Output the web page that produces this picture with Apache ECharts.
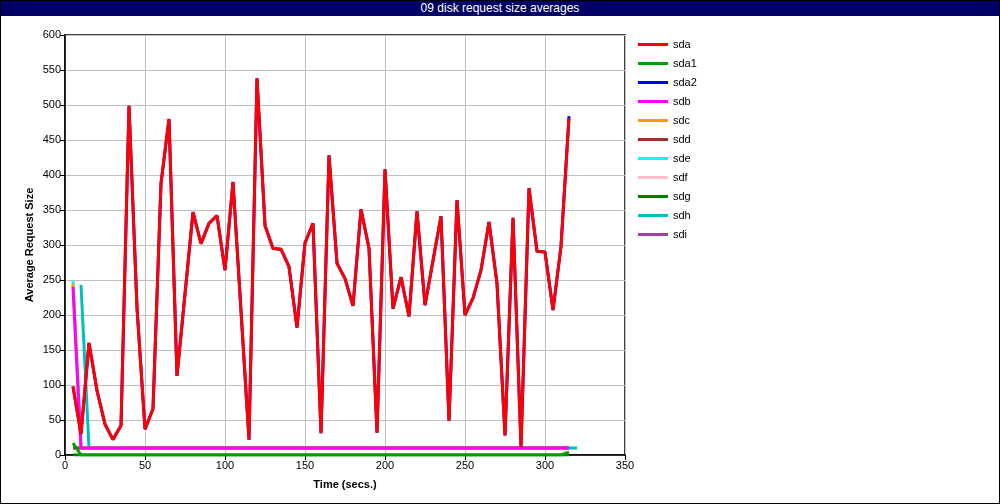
<!DOCTYPE html>
<html>
<head>
<meta charset="utf-8">
<script src="https://cdn.jsdelivr.net/npm/echarts@6/dist/echarts.min.js"></script>
<style>
html,body{margin:0;padding:0;background:#fff;}
#wrap{position:relative;width:998px;height:502px;border:1px solid #000;}
#title{position:absolute;left:0;top:0;width:998px;height:15px;background:#000066;color:#fff;font:12px "Liberation Sans",Arial,sans-serif;text-align:center;line-height:15px;}
#chart{position:absolute;left:-1px;top:-1px;width:1000px;height:504px;}
</style>
</head>
<body>
<div id="wrap"><div id="chart"></div><div id="title">09 disk request size averages</div></div>
<script>
const times = [5,10,15,20,25,30,35,40,45,50,55,60,65,70,75,80,85,90,95,100,105,110,115,120,125,130,135,140,145,150,155,160,165,170,175,180,185,190,195,200,205,210,215,220,225,230,235,240,245,250,255,260,265,270,275,280,285,290,295,300,305,310,315,320];
const deviceNames = ['sda','sda1','sda2','sdb','sdc','sdd','sde','sdf','sdg','sdh','sdi'];
const colors = ['#ff0000','#00a000','#0000ff','#ff00ff','#f0a000','#a03030','#00ffff','#ffc0cb','#008000','#00c0c0','#a040a0'];
const sda = [98,30,160,92,44,22,42,499,210,37,66,388,480,113,230,347,302,331,342,264,390,206,22,538,328,295,294,269,182,303,331,31,428,274,252,213,351,295,32,408,209,254,198,348,214,278,341,49,364,200,224,264,333,245,28,339,12,381,291,290,207,298,481,null];
const sda1 = [17,0,0,0,0,0,0,0,0,0,0,0,0,0,0,0,0,0,0,0,0,0,0,0,0,0,0,0,0,0,0,0,0,0,0,0,0,0,0,0,0,0,0,0,0,0,0,0,0,0,0,0,0,0,0,0,0,0,0,0,0,0,4,null];
const sda2 = [98,30,160,92,44,22,42,499,210,37,66,388,480,113,230,347,302,331,342,264,390,206,22,538,328,295,294,269,182,303,331,31,428,274,252,213,351,295,32,408,209,254,198,348,214,278,341,49,364,200,224,264,333,245,28,339,12,381,291,290,207,298,484,null];
const sdb = [240,10,10,10,10,10,10,10,10,10,10,10,10,10,10,10,10,10,10,10,10,10,10,10,10,10,10,10,10,10,10,10,10,10,10,10,10,10,10,10,10,10,10,10,10,10,10,10,10,10,10,10,10,10,10,10,10,10,10,10,10,10,10,null];
const sdc = [245,10,10,10,10,10,10,10,10,10,10,10,10,10,10,10,10,10,10,10,10,10,10,10,10,10,10,10,10,10,10,10,10,10,10,10,10,10,10,10,10,10,10,10,10,10,10,10,10,10,10,10,10,10,10,10,10,10,10,10,10,10,10,null];
const sdd = [10,10,10,10,10,10,10,10,10,10,10,10,10,10,10,10,10,10,10,10,10,10,10,10,10,10,10,10,10,10,10,10,10,10,10,10,10,10,10,10,10,10,10,10,10,10,10,10,10,10,10,10,10,10,10,10,10,10,10,10,10,10,10,null];
const sde = [249,10,10,10,10,10,10,10,10,10,10,10,10,10,10,10,10,10,10,10,10,10,10,10,10,10,10,10,10,10,10,10,10,10,10,10,10,10,10,10,10,10,10,10,10,10,10,10,10,10,10,10,10,10,10,10,10,10,10,10,10,10,10,null];
const sdf = [10,10,10,10,10,10,10,10,10,10,10,10,10,10,10,10,10,10,10,10,10,10,10,10,10,10,10,10,10,10,10,10,10,10,10,10,10,10,10,10,10,10,10,10,10,10,10,10,10,10,10,10,10,10,10,10,10,10,10,10,10,10,10,null];
const sdg = [0,0,0,0,0,0,0,0,0,0,0,0,0,0,0,0,0,0,0,0,0,0,0,0,0,0,0,0,0,0,0,0,0,0,0,0,0,0,0,0,0,0,0,0,0,0,0,0,0,0,0,0,0,0,0,0,0,0,0,0,0,0,0,null];
const sdh = [null,243,10,10,10,10,10,10,10,10,10,10,10,10,10,10,10,10,10,10,10,10,10,10,10,10,10,10,10,10,10,10,10,10,10,10,10,10,10,10,10,10,10,10,10,10,10,10,10,10,10,10,10,10,10,10,10,10,10,10,10,10,10,10];
const sdi = [10,10,10,10,10,10,10,10,10,10,10,10,10,10,10,10,10,10,10,10,10,10,10,10,10,10,10,10,10,10,10,10,10,10,10,10,10,10,10,10,10,10,10,10,10,10,10,10,10,10,10,10,10,10,10,10,10,10,10,10,10,10,10,null];
const xTicks = [0,50,100,150,200,250,300,350];
const yTicks = [0,50,100,150,200,250,300,350,400,450,500,550,600];

const seriesValues = [sda,sda1,sda2,sdb,sdc,sdd,sde,sdf,sdg,sdh,sdi];
const FONT = '"Liberation Sans", Arial, sans-serif';
const series = [];
for (let i = deviceNames.length - 1; i >= 0; i--) {
  const vals = seriesValues[i];
  const data = [];
  for (let k = 0; k < times.length; k++) if (vals[k] !== null) data.push([times[k], vals[k]]);
  series.push({
    name: deviceNames[i], type: 'line', data: data, symbol: 'none',
    lineStyle: {width: 3, color: colors[i]}, itemStyle: {color: colors[i]},
    z: 20 - i, animation: false
  });
}
const chart = echarts.init(document.getElementById('chart'), null, {renderer: 'canvas'});
chart.setOption({
  animation: false,
  backgroundColor: 'transparent',
  grid: {left: 65, right: 375, top: 35, bottom: 49, show: true, borderColor: '#000', borderWidth: 1.5},
  graphic: [{
    type: 'text', x: 30, y: 245, rotation: Math.PI / 2,
    style: {text: 'Average Request Size', align: 'center', verticalAlign: 'middle',
            font: 'bold 11px "Liberation Sans", Arial, sans-serif', fill: '#000'}
  }],
  legend: {
    data: deviceNames, orient: 'vertical', left: 633, top: 34,
    itemWidth: 30, itemHeight: 12, itemGap: 8,
    textStyle: {fontFamily: FONT, fontSize: 11, color: '#000'},
    icon: 'path://M0,5 L30,5 L30,8 L0,8 Z'
  },
  xAxis: {
    type: 'value', min: xTicks[0], max: xTicks[xTicks.length-1], interval: 50,
    name: 'Time (secs.)', nameLocation: 'middle', nameGap: 24,
    nameTextStyle: {fontFamily: FONT, fontSize: 11, fontWeight: 'bold', color: '#000'},
    axisLine: {lineStyle: {color: '#000', width: 1.5}},
    axisTick: {show: true, length: 5, lineStyle: {color: '#000'}},
    axisLabel: {fontFamily: FONT, fontSize: 11, color: '#000', margin: 5},
    splitLine: {show: true, lineStyle: {color: '#c0c0c0', width: 1}}
  },
  yAxis: {
    type: 'value', min: yTicks[0], max: yTicks[yTicks.length-1], interval: 50,
    axisLine: {show: true, lineStyle: {color: '#000', width: 1.5}},
    axisTick: {show: true, length: 5, lineStyle: {color: '#000'}},
    axisLabel: {fontFamily: FONT, fontSize: 11, color: '#000', margin: 4},
    splitLine: {show: true, lineStyle: {color: '#c0c0c0', width: 1}}
  },
  series: series
});
</script>
</body>
</html>
